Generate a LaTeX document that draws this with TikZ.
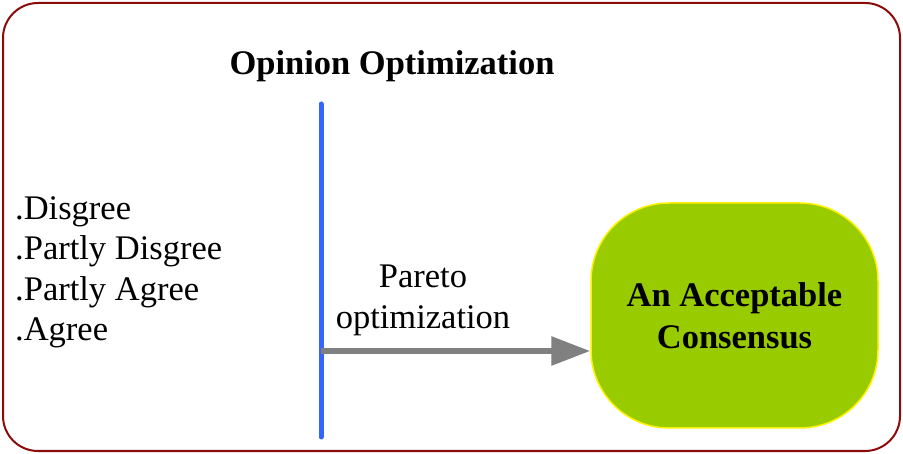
\documentclass[tikz,border=0pt]{standalone}
\usepackage{fontspec}
\setmainfont{Liberation Serif}
\usetikzlibrary{arrows.meta}
\definecolor{framered}{RGB}{139,10,10}
\definecolor{barblue}{RGB}{51,102,255}
\definecolor{boxgreen}{RGB}{153,204,0}
\definecolor{arrowgray}{RGB}{128,128,128}
\tikzset{
  txt/.style={inner sep=0pt, font=\fontsize{34.5}{40.5}\selectfont},
  boldtxt/.style={txt, font=\fontsize{34.5}{42}\selectfont\bfseries},
  goalbox/.style={draw=yellow, line width=1.5pt, fill=boxgreen, rounded corners=78pt,
    minimum width=287pt, minimum height=225pt, align=center, inner sep=0pt},
}
\begin{document}
\begin{tikzpicture}[x=1pt,y=-1pt]
\useasboundingbox (0,0) rectangle (903,454);
\draw[framered, line width=2pt, rounded corners=35pt] (3,3) rectangle (900,451);
\node[boldtxt, anchor=base] (title) at (392,75) {Opinion Optimization};
\node[txt, anchor=base west, align=left] (list) at (15,341) {.Disgree\\.Partly Disgree\\.Partly Agree\\.Agree};
\coordinate (bartop) at (321,104);
\coordinate (barbot) at (321,437);
\coordinate (start) at (321,351);
\draw[barblue, line width=5pt, line cap=round] (bartop) -- (barbot);
\node[goalbox, font=\fontsize{34.5}{42}\selectfont\bfseries] (goal) at (734.5,315.5) {An Acceptable\\Consensus};
\draw[arrowgray, line width=6pt, -{Triangle[length=39pt,width=28pt]}] (start) -- (start -| goal.west);
\node[txt, anchor=base, align=center, font=\fontsize{34.5}{41}\selectfont] (pareto) at (423,329) {Pareto\\optimization};
\end{tikzpicture}
\end{document}
